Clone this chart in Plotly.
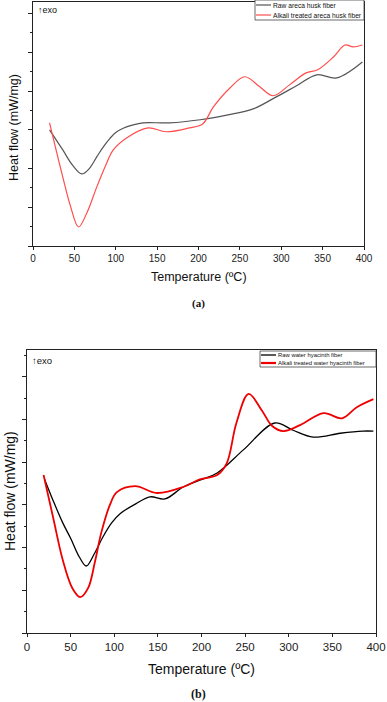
import plotly.graph_objects as go

# (a) areca husk fiber
temp_a_raw = [20, 36, 48, 59, 68, 77, 85, 93, 100, 109, 120, 133, 165, 202, 234, 266, 294, 318, 343, 367, 398]
heat_a_raw = [3.00, 2.48, 2.08, 1.86, 2.00, 2.30, 2.56, 2.78, 2.93, 3.04, 3.12, 3.18, 3.18, 3.26, 3.38, 3.54, 3.85, 4.13, 4.42, 4.34, 4.75]
temp_a_alk = [20, 36, 45, 55, 65, 77, 87, 97, 113, 139, 161, 189, 205, 218, 238, 256, 274, 290, 310, 330, 344, 363, 377, 387, 398]
heat_a_alk = [3.18, 1.78, 1.05, 0.49, 0.85, 1.52, 2.04, 2.48, 2.79, 3.05, 2.95, 3.05, 3.15, 3.59, 4.08, 4.37, 4.11, 3.88, 4.16, 4.47, 4.55, 4.88, 5.19, 5.14, 5.19]

# (b) water hyacinth fiber
temp_b_raw = [20, 30, 41, 50, 60, 68, 77, 87, 97, 107, 125, 141, 158, 179, 198, 218, 248, 284, 305, 328, 359, 385, 397]
heat_b_raw = [3.61, 3.10, 2.58, 2.22, 1.78, 1.57, 1.85, 2.25, 2.58, 2.80, 3.03, 3.19, 3.14, 3.42, 3.58, 3.75, 4.29, 4.92, 4.75, 4.59, 4.68, 4.73, 4.73]
temp_b_alk = [19, 30, 41, 52, 61, 70, 78, 85, 95, 103, 124, 149, 179, 198, 218, 229, 240, 254, 269, 281, 294, 313, 340, 361, 378, 397]
heat_b_alk = [3.70, 2.70, 1.71, 1.05, 0.84, 1.05, 1.68, 2.34, 3.00, 3.30, 3.44, 3.28, 3.42, 3.60, 3.70, 3.98, 4.92, 5.60, 5.22, 4.85, 4.73, 4.87, 5.15, 5.03, 5.29, 5.48]

W, H = 387, 702
FONT = "Liberation Sans, Arial, sans-serif"
SERIF = "Liberation Serif, Times New Roman, serif"
SMOOTH = 1.0

fig = go.Figure()
fig.add_trace(go.Scatter(x=temp_a_raw, y=heat_a_raw, mode="lines", name="Raw areca husk fiber",
                         line=dict(color="#555555", width=1.2, shape="spline", smoothing=SMOOTH),
                         xaxis="x", yaxis="y"))
fig.add_trace(go.Scatter(x=temp_a_alk, y=heat_a_alk, mode="lines", name="Alkali treated areca husk fiber",
                         line=dict(color="#ff4d4d", width=1.2, shape="spline", smoothing=SMOOTH),
                         xaxis="x", yaxis="y"))
fig.add_trace(go.Scatter(x=temp_b_raw, y=heat_b_raw, mode="lines", name="Raw water hyacinth fiber",
                         line=dict(color="black", width=1.3, shape="spline", smoothing=SMOOTH),
                         xaxis="x2", yaxis="y2"))
fig.add_trace(go.Scatter(x=temp_b_alk, y=heat_b_alk, mode="lines", name="Alkali treated water hyacinth fiber",
                         line=dict(color="#ee0000", width=1.8, shape="spline", smoothing=SMOOTH),
                         xaxis="x2", yaxis="y2"))


def px(v):
    return v / W


def py(v):
    return 1 - v / H


def xaxis(dom, anchor, fsize):
    return dict(domain=dom, anchor=anchor, range=[0, 400], dtick=50, showgrid=False, zeroline=False,
                showline=True, linecolor="#222", linewidth=1.2, mirror=True, automargin=False,
                ticks="outside", ticklen=3, tickcolor="#222",
                tickfont=dict(family=FONT, size=fsize, color="#222"), fixedrange=True)


def yaxis(dom, anchor, top):
    return dict(domain=dom, anchor=anchor, range=[0, top], dtick=1, showgrid=False, zeroline=False,
                showline=True, linecolor="#222", linewidth=1.2, mirror=True, showticklabels=False,
                ticks="outside", ticklen=4, tickcolor="#222", automargin=False,
                minor=dict(dtick=0.5, ticks="outside", ticklen=2, tickcolor="#222"), fixedrange=True)


def text(t, x, y, size, family=FONT, xanchor="center", yanchor="middle", angle=0):
    return dict(text=t, x=px(x), y=py(y), xref="paper", yref="paper", xanchor=xanchor, yanchor=yanchor,
                showarrow=False, textangle=angle, font=dict(family=family, size=size, color="#111"))


# legends drawn as boxes with sample lines
def legend(x0, y0, x1, y1, names, colors, widths, size):
    shapes = [dict(type="rect", xref="paper", yref="paper", x0=px(x0), x1=px(x1), y0=py(y1), y1=py(y0),
                   line=dict(color="#444", width=0.8), fillcolor="white", layer="above")]
    anns = []
    n = len(names)
    step = (y1 - y0) / n
    for i, (nm, c, w) in enumerate(zip(names, colors, widths)):
        yc = y0 + step * (i + 0.5)
        shapes.append(dict(type="line", xref="paper", yref="paper", x0=px(x0 + 1), x1=px(x0 + 16),
                           y0=py(yc), y1=py(yc), line=dict(color=c, width=w), layer="above"))
        anns.append(text(nm, x0 + 16, yc, size, xanchor="left"))
    return shapes, anns


sh_a, an_a = legend(255, 0, 364, 20, [fig.data[0].name, fig.data[1].name], ["#555555", "#ff4d4d"], [1.2, 1.2], 6.7)
sh_b, an_b = legend(260, 351, 376, 367, [fig.data[2].name, fig.data[3].name], ["black", "#ee0000"], [1.3, 2.2], 5.9)

fig.update_layout(
    width=W, height=H, margin=dict(l=0, r=0, t=0, b=0), showlegend=False,
    paper_bgcolor="white", plot_bgcolor="white",
    xaxis=xaxis([px(33), px(364)], "y", 10),
    yaxis=yaxis([py(246), py(2)], "x", 6.3),
    xaxis2=xaxis([px(27), px(376)], "y2", 11.5),
    yaxis2=yaxis([py(633), py(350)], "x2", 6.63),
    shapes=sh_a + sh_b,
    annotations=an_a + an_b + [
        text("Temperature (ºC)", 199, 277, 12.5),
        text("Heat flow (mW/mg)", 14, 128, 12.5, angle=-90),
        text("Temperature (ºC)", 201, 669, 14),
        text("Heat flow (mW/mg)", 10, 491, 14, angle=-90),
        text("↑exo", 36, 3, 9, xanchor="left", yanchor="top"),
        text("↑exo", 30, 353, 9.5, xanchor="left", yanchor="top"),
        text("<b>(a)</b>", 198, 303, 11, family=SERIF),
        text("<b>(b)</b>", 198, 694, 12, family=SERIF),
    ],
)

fig.write_html("out.html", config={"displayModeBar": False},
               post_script="document.body.style.margin = '0';")
